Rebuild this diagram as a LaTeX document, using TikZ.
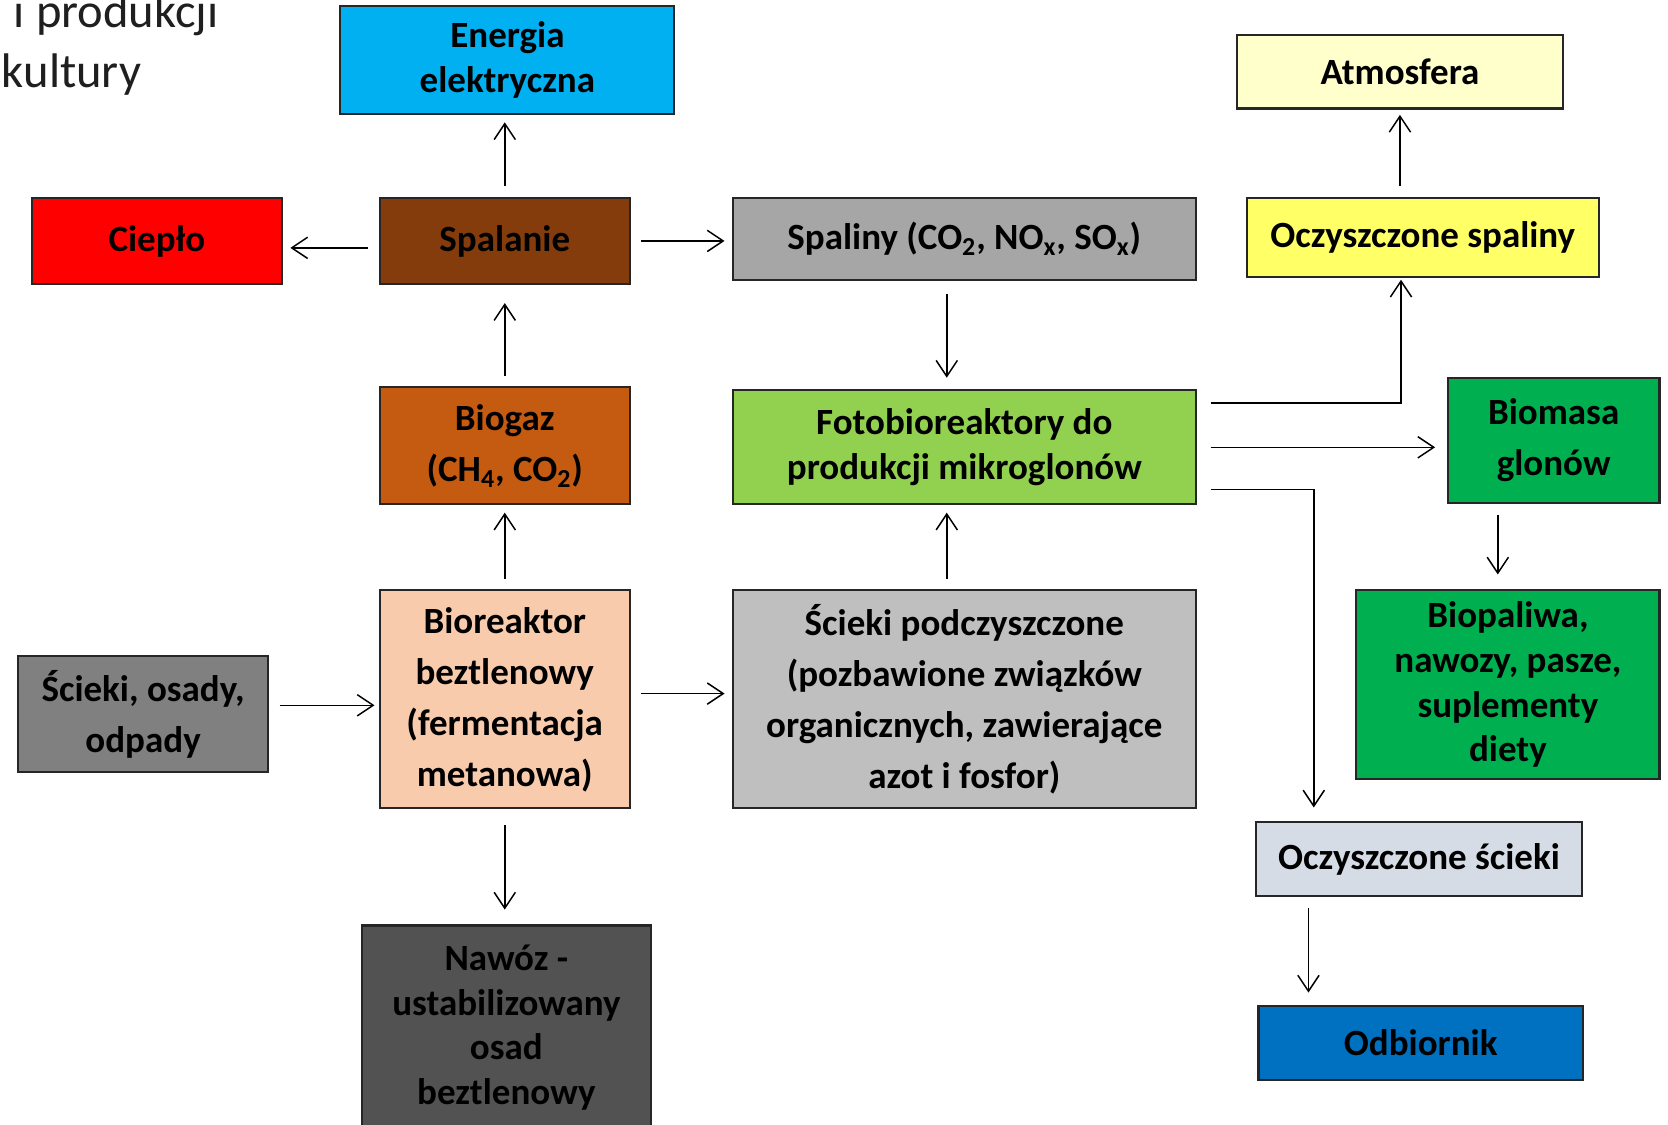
\documentclass[tikz,border=0pt]{standalone}
\usepackage{fontspec}
\setmainfont{Carlito}
\usepackage{tikz}
\usetikzlibrary{positioning}
\usetikzlibrary{calc,arrows.meta}
\definecolor{cEnergia}{HTML}{00B0F0}
\definecolor{cCieplo}{HTML}{FF0000}
\definecolor{cSpalanie}{HTML}{843C0C}
\definecolor{cSpaliny}{HTML}{A6A6A6}
\definecolor{cAtmo}{HTML}{FFFFCC}
\definecolor{cOczSp}{HTML}{FFFF66}
\definecolor{cBiogaz}{HTML}{C55A11}
\definecolor{cFoto}{HTML}{92D050}
\definecolor{cGlony}{HTML}{00B050}
\definecolor{cOdpady}{HTML}{808080}
\definecolor{cReaktor}{HTML}{F8CBAD}
\definecolor{cPodcz}{HTML}{BFBFBF}
\definecolor{cOczSc}{HTML}{D6DCE5}
\definecolor{cNawoz}{HTML}{525252}
\definecolor{cOdb}{HTML}{0070C0}
\tikzset{
	arr/.style = {-{Straight Barb[length=3mm,width=4mm]}, line width=0.8pt,
		shorten <=2mm, shorten >=1.4mm},
	box/.style = {draw=black!85, line width=1.1pt, align=center, inner sep=0pt,
		text=black, font=\bfseries\fontsize{19.8}{24}\selectfont},
	tall/.style = {font=\bfseries\fontsize{19.8}{27.3}\selectfont},
	title/.style = {anchor=base east, inner sep=0pt, text=black!88,
		font=\fontsize{26}{30}\selectfont},
}
\begin{document}
\begin{tikzpicture}[x=0.02cm, y=-0.02cm]
	\fill[white] (0,0) rectangle (1568,1057);
	\useasboundingbox (0,0) rectangle (1568,1057);
	\node[title] (t1) at (206,26) {i produkcji};
	\node[title] (t2) at (133,82) {kultury};
	% top row
	\node[box, fill=cEnergia, minimum width=6.28cm, minimum height=2.02cm] (energia) at (477,56.5) {Energia\\elektryczna};
	\node[box, fill=cCieplo, minimum width=4.7cm, minimum height=1.62cm] (cieplo) at (147.5,226.5) {Ciepło};
	\node[box, fill=cSpalanie, minimum width=4.7cm, minimum height=1.62cm] (spalanie) at (474.5,226.5) {Spalanie};
	\node[box, fill=cSpaliny, minimum width=8.7cm, minimum height=1.54cm] (spaliny) at (906.5,224.5) {Spaliny (CO\textsubscript{2}, NO\textsubscript{x}, SO\textsubscript{x})};
	\node[box, fill=cAtmo, minimum width=6.12cm, minimum height=1.38cm] (atmo) at (1316,67.5) {Atmosfera};
	\node[box, fill=cOczSp, minimum width=6.62cm, minimum height=1.48cm] (oczsp) at (1337.5,223) {Oczyszczone spaliny};
	% middle row
	\node[box, tall, fill=cBiogaz, minimum width=4.7cm, minimum height=2.2cm] (biogaz) at (474.5,419) {Biogaz\\(CH\textsubscript{4}, CO\textsubscript{2})};
	\node[box, fill=cFoto, minimum width=8.7cm, minimum height=2.14cm] (foto) at (906.5,420.5) {Fotobioreaktory do\\produkcji mikroglonów};
	\node[box, tall, fill=cGlony, minimum width=3.98cm, minimum height=2.36cm] (biomasa) at (1460.5,414) {Biomasa\\glonów};
	% lower rows
	\node[box, tall, fill=cOdpady, minimum width=4.7cm, minimum height=2.18cm] (odpady) at (134.5,671.5) {Ścieki, osady,\\odpady};
	\node[box, tall, fill=cReaktor, minimum width=4.7cm, minimum height=4.1cm] (reaktor) at (474.5,657.5) {Bioreaktor\\beztlenowy\\(fermentacja\\metanowa)};
	\node[box, tall, fill=cPodcz, minimum width=8.7cm, minimum height=4.1cm] (podcz) at (906.5,657.5) {Ścieki podczyszczone\\(pozbawione związków\\organicznych, zawierające\\azot i fosfor)};
	\node[box, fill=cGlony, minimum width=5.7cm, minimum height=3.54cm] (biopaliwa) at (1417.5,643.5) {Biopaliwa,\\nawozy, pasze,\\suplementy\\diety};
	\node[box, fill=cOczSc, minimum width=6.12cm, minimum height=1.38cm] (oczsc) at (1334,807.5) {Oczyszczone ścieki};
	\node[box, fill=cNawoz, minimum width=5.44cm, minimum height=3.84cm] (nawoz) at (476,966) {Nawóz -\\ustabilizowany\\osad\\beztlenowy};
	\node[box, fill=cOdb, minimum width=6.1cm, minimum height=1.38cm] (odb) at (1335.5,980.5) {Odbiornik};
	% connectors
	\draw[arr] (spalanie.north) -- (spalanie.north |- energia.south);
	\draw[arr] ([yshift=-1.3mm]spalanie.west) -- ([yshift=-1.3mm]cieplo.east);
	\draw[arr] (spalanie.east) -- (spalanie.east -| spaliny.west);
	\draw[arr, shorten <=2.4mm, shorten >=2.2mm] ([xshift=-3.3mm]spaliny.south) -- ([xshift=-3.3mm]foto.north);
	\draw[arr, shorten >=3.4mm] (biogaz.north) -- (spalanie.south);
	\draw[arr] (reaktor.north) -- (biogaz.south);
	\draw[arr, shorten >=0.8mm] ([yshift=1.7mm]odpady.east) -- ([yshift=1.7mm]odpady.east -| reaktor.west);
	\draw[arr] ([yshift=1.1mm]reaktor.east) -- ([yshift=1.1mm]podcz.west);
	\draw[arr] ([xshift=-3.3mm]podcz.north) -- ([xshift=-3.3mm]foto.south);
	\draw[arr, shorten <=3mm, shorten >=2.8mm] (reaktor.south) -- (reaktor.south |- nawoz.north);
	\draw[arr, shorten <=2.6mm, shorten >=0.4mm] ([yshift=8.3mm]foto.east) -| ([xshift=-4.1mm]oczsp.south);
	\draw[arr, shorten >=1mm] (oczsp.north -| atmo.south) -- (atmo.south);
	\draw[arr, shorten <=2.6mm, shorten >=2.2mm] (foto.east) -- (foto.east -| biomasa.west);
	\draw[arr, shorten <=2.6mm, shorten >=2.6mm] ([yshift=-7.9mm]foto.east) -| ([xshift=-19.8mm]oczsc.north);
	\draw[arr, shorten >=2.8mm] ([xshift=-1.9mm]biopaliwa.north |- biomasa.south) -- ([xshift=-1.9mm]biopaliwa.north);
	\draw[arr, shorten <=2.2mm, shorten >=2.4mm] ([xshift=-20.8mm]oczsc.south) -- ([xshift=-20.8mm]oczsc.south |- odb.north);
\end{tikzpicture}
\end{document}
